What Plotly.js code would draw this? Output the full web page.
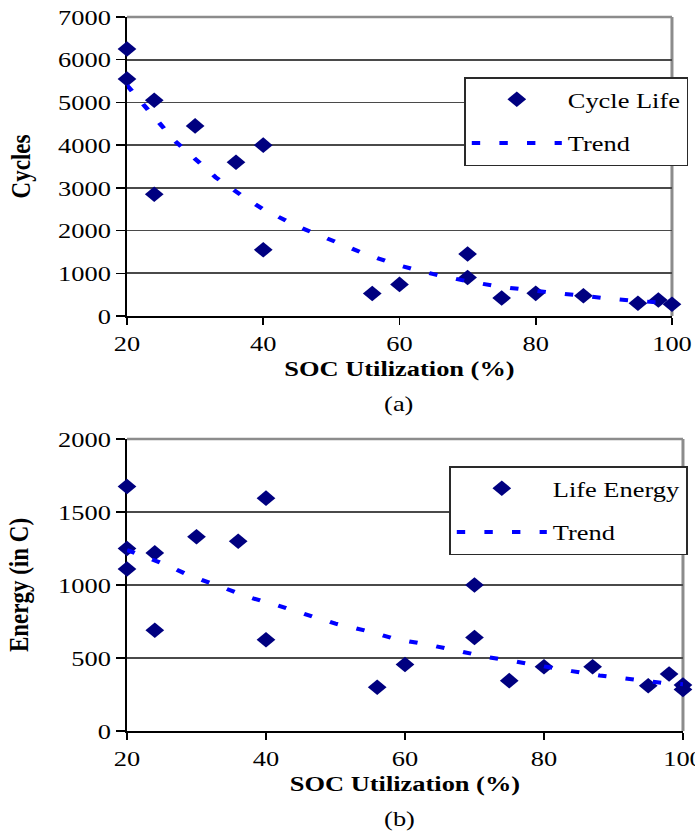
<!DOCTYPE html>
<html><head><meta charset="utf-8">
<script src="https://cdn.plot.ly/plotly-3.0.1.min.js"></script>
<style>
html,body{margin:0;padding:0;background:#fff;overflow:hidden;width:695px;height:836px}
#wrap{width:579px;height:836px;transform:scaleX(1.2003);transform-origin:0 0}
</style></head>
<body><div id="wrap"><div id="chart" style="width:579px;height:836px"></div></div>
<script>
// (a) Cycle life vs SOC utilization
const socA   = [20, 20, 24, 24, 30, 36, 40, 40, 56, 60, 70, 70, 75, 80, 87, 95, 98, 100];
const cycles = [6250, 5550, 5050, 2850, 4450, 3600, 4000, 1550, 525, 740, 1450, 900, 420, 530, 475, 300, 375, 275];
const trendAx = [20, 24, 27, 30, 33, 37, 40, 45, 50, 55, 60, 65, 70, 75, 80, 85, 90, 95, 100];
const trendAy = [5400, 4650, 4100, 3680, 3250, 2800, 2500, 2100, 1780, 1450, 1180, 980, 810, 680, 590, 500, 420, 350, 300];

// (b) Life energy vs SOC utilization
const socB   = [20, 20, 20, 24, 24, 30, 36, 40, 40, 56, 60, 70, 70, 75, 80, 87, 95, 98, 100, 100];
const energy = [1675, 1250, 1110, 1220, 690, 1330, 1300, 1595, 625, 300, 455, 1000, 640, 345, 440, 440, 310, 390, 315, 285];
const trendBx = [20, 25, 29, 33, 38, 42, 46, 50, 55, 59, 63, 67, 72, 76, 80, 84, 88, 93, 97, 100];
const trendBy = [1240, 1150, 1065, 995, 910, 855, 795, 735, 680, 625, 595, 555, 505, 475, 440, 410, 380, 350, 330, 320];

const xTicks = [20, 40, 60, 80, 100];
const yTicksA = [0, 1000, 2000, 3000, 4000, 5000, 6000, 7000];
const yTicksB = [0, 500, 1000, 1500, 2000];

const FONT = 'Liberation Serif, Times New Roman, serif';
const NAVY = '#000080';
const BLUE = '#0000ff';
const W = 695, H = 836;

const markerStyle = {symbol: 'diamond', size: 12, color: NAVY, line: {width: 0}};
const trendStyle = {color: BLUE, width: 4, dash: '7px,16px'};

const traces = [
  {x: socA, y: cycles, type: 'scatter', mode: 'markers', name: 'Cycle Life', marker: markerStyle,
   cliponaxis: false, xaxis: 'x', yaxis: 'y', legend: 'legend', legendgroup: 'a1', legendrank: 1},
  {x: trendAx, y: trendAy, type: 'scatter', mode: 'lines', name: 'Trend', line: trendStyle,
   cliponaxis: false, xaxis: 'x', yaxis: 'y', legend: 'legend', legendgroup: 'a2', legendrank: 2},
  {x: socB, y: energy, type: 'scatter', mode: 'markers', name: 'Life Energy', marker: markerStyle,
   cliponaxis: false, xaxis: 'x2', yaxis: 'y2', legend: 'legend2', legendgroup: 'b1', legendrank: 1},
  {x: trendBx, y: trendBy, type: 'scatter', mode: 'lines', name: 'Trend', line: trendStyle,
   cliponaxis: false, xaxis: 'x2', yaxis: 'y2', legend: 'legend2', legendgroup: 'b2', legendrank: 2}
];

const tickFont = {family: FONT, size: 22, color: '#000'};
const titleFont = {family: FONT, size: 22, color: '#000', weight: 'bold'};

function xAxis(domain, anchor, standoff) {
  return {domain: domain, anchor: anchor, range: [20, 100], tickvals: xTicks, ticktext: xTicks.map(String),
    showgrid: false, zeroline: false, showline: true, linecolor: '#000', linewidth: 2,
    ticks: 'outside', ticklen: 7, tickwidth: 1.5, tickcolor: '#000', tickfont: tickFont,
    ticklabeloverflow: 'allow', layer: 'below traces', fixedrange: true,
    title: {text: 'SOC Utilization (%)', font: titleFont, standoff: standoff}};
}
function yAxis(domain, anchor, range, ticks, title, standoff) {
  return {domain: domain, anchor: anchor, range: range, tickvals: ticks, ticktext: ticks.map(String),
    showgrid: true, gridcolor: '#4a4a4a', gridwidth: 1.8, zeroline: false,
    showline: true, linecolor: '#000', linewidth: 2,
    ticks: 'outside', ticklen: 7, tickwidth: 1.5, tickcolor: '#000', tickfont: tickFont,
    layer: 'below traces', fixedrange: true,
    title: {text: title, font: {family: FONT, size: 23, color: '#000', weight: 'bold'}, standoff: standoff}};
}

const legendBase = {xanchor: 'left', yanchor: 'top', bgcolor: '#fff', bordercolor: '#2a2a2a', borderwidth: 1.5,
  font: {family: FONT, size: 22, color: '#000'}, itemwidth: 75, tracegroupgap: 12, traceorder: 'grouped'};

const borderLine = {color: '#8c8c8c', width: 2.5};
const layout = {
  width: 579, height: H,
  margin: {l: 0, r: 0, t: 0, b: 0},
  paper_bgcolor: '#fff', plot_bgcolor: '#fff',
  showlegend: true,
  xaxis: xAxis([127 / W, 672 / W], 'y', 3),
  yaxis: yAxis([(H - 316) / H, (H - 17) / H], 'x', [0, 7000], yTicksA, 'Cycles', 16),
  xaxis2: xAxis([127 / W, 683 / W], 'y2', 0),
  yaxis2: yAxis([(H - 731) / H, (H - 439) / H], 'x2', [0, 2000], yTicksB, 'Energy (in C)', 18),
  legend: Object.assign({}, legendBase, {x: 464 / W, y: (H - 77) / H}),
  legend2: Object.assign({}, legendBase, {x: 449 / W, y: (H - 466) / H}),
  shapes: [
    {type: 'line', xref: 'x domain', yref: 'y domain', x0: 0, x1: 1, y0: 1, y1: 1, line: borderLine, layer: 'above'},
    {type: 'line', xref: 'x domain', yref: 'y domain', x0: 1, x1: 1, y0: 0, y1: 1, line: borderLine, layer: 'below'},
    {type: 'line', xref: 'x2 domain', yref: 'y2 domain', x0: 0, x1: 1, y0: 1, y1: 1, line: borderLine, layer: 'above'},
    {type: 'line', xref: 'x2 domain', yref: 'y2 domain', x0: 1, x1: 1, y0: 0, y1: 1, line: borderLine, layer: 'below'}
  ],
  annotations: [
    {text: '(a)', xref: 'paper', yref: 'paper', x: 399 / W, y: (H - 403) / H, xanchor: 'center', yanchor: 'middle',
     showarrow: false, font: {family: FONT, size: 22, color: '#000'}},
    {text: '(b)', xref: 'paper', yref: 'paper', x: 400 / W, y: (H - 818) / H, xanchor: 'center', yanchor: 'middle',
     showarrow: false, font: {family: FONT, size: 22, color: '#000'}}
  ]
};

Plotly.newPlot('chart', traces, layout, {displayModeBar: false, staticPlot: true});
</script></body></html>
